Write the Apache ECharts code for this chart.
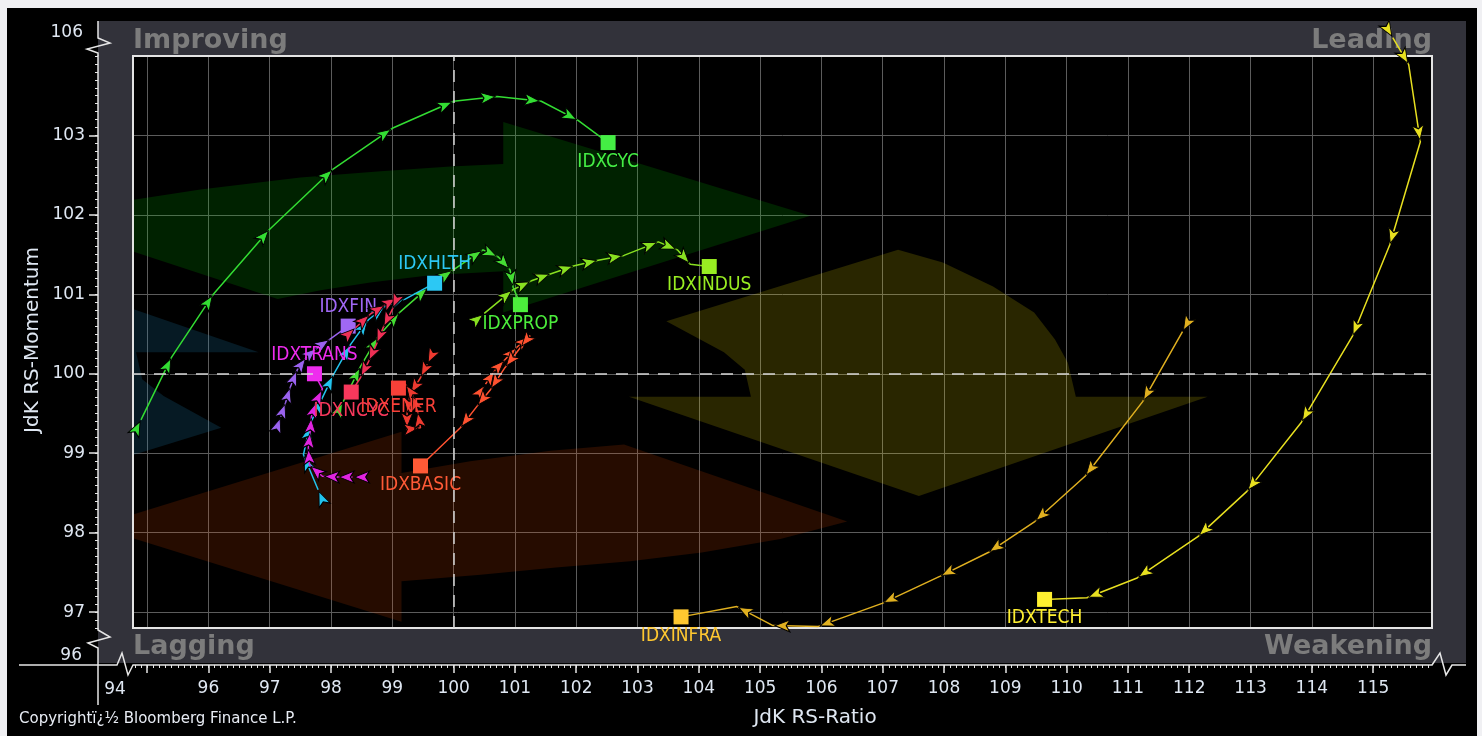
<!DOCTYPE html>
<html><head><meta charset="utf-8">
<script src="https://cdn.jsdelivr.net/npm/echarts@6/dist/echarts.min.js"></script>
<style>html,body{margin:0;padding:0;background:#f0f0f3;}#c{width:1482px;height:736px;}</style>
</head><body><div id="c"></div>
<script>
// ---------------- data ----------------
const X_LABELS = [96,97,98,99,100,101,102,103,104,105,106,107,108,109,110,111,112,113,114,115];
const X_GRID = [95,96,97,98,99,100,101,102,103,104,105,106,107,108,109,110,111,112,113,114,115];
const Y_LABELS = [97,98,99,100,101,102,103];
const Y_GRID = [97,98,99,100,101,102,103];
const SERIES_NAMES = ['IDXCYC','IDXINDUS','IDXPROP','IDXHLTH','IDXFIN','IDXTRANS','IDXNCYC','IDXENER','IDXBASIC','IDXINFRA','IDXTECH'];

const IDXCYC = [[94.90,99.42],[95.40,100.21],[96.08,101.00],[97.00,101.82],[98.04,102.58],[99.00,103.09],[100.00,103.43],[100.71,103.49],[101.43,103.43],[102.03,103.19],[102.52,102.91]];
const IDXINDUS = [[100.50,100.76],[100.97,101.06],[101.27,101.17],[101.59,101.26],[101.97,101.36],[102.36,101.43],[102.78,101.49],[103.34,101.66],[103.65,101.56],[103.86,101.38],[104.17,101.35]];
const IDXPROP = [[98.20,99.65],[98.48,100.09],[98.77,100.47],[99.13,100.78],[99.59,101.09],[100.00,101.31],[100.48,101.56],[100.73,101.47],[100.92,101.31],[100.97,101.09],[101.09,100.87]];
const IDXHLTH = [[97.79,98.54],[97.55,98.98],[97.66,99.37],[97.86,99.70],[98.04,99.99],[98.32,100.37],[98.61,100.68],[98.89,100.85],[99.21,100.94],[99.69,101.14]];
const IDXFIN = [[97.18,99.46],[97.26,99.64],[97.34,99.84],[97.45,100.05],[97.60,100.21],[97.78,100.33],[97.99,100.44],[98.28,100.60]];
const IDXTRANS = [[98.35,98.70],[98.10,98.70],[97.86,98.71],[97.65,98.85],[97.63,99.07],[97.66,99.27],[97.68,99.46],[97.76,99.65],[97.86,99.81],[97.73,100.00]];
const IDXNCYC = [[98.40,100.58],[98.64,100.75],[98.89,100.87],[99.08,100.96],[99.00,100.81],[98.85,100.58],[98.74,100.37],[98.61,100.15],[98.48,99.95],[98.33,99.77]];
const IDXENER = [[99.57,100.12],[99.46,99.95],[99.29,99.74],[99.24,99.49],[99.24,99.30],[99.46,99.32],[99.41,99.53],[99.33,99.74],[99.21,99.87],[99.10,99.82]];
const IDXBASIC = [[100.52,99.87],[100.68,100.05],[100.84,100.18],[101.04,100.34],[101.25,100.48],[101.09,100.33],[100.84,100.08],[100.60,99.80],[100.38,99.59],[100.11,99.32],[99.46,98.84]];
const IDXINFRA = [[111.89,100.53],[111.24,99.65],[110.30,98.71],[109.48,98.14],[108.72,97.75],[107.93,97.45],[106.99,97.11],[105.95,96.82],[105.21,96.83],[104.62,97.07],[103.71,96.94]];
const IDXTECH = [[115.32,104.23],[115.58,103.89],[115.77,102.92],[115.27,101.62],[114.66,100.47],[113.83,99.39],[112.94,98.52],[112.14,97.95],[111.15,97.43],[110.33,97.18],[109.64,97.16]];

// background rotation arrows (data units)
const ARROW_GREEN = [[105.82,101.99],[100.81,103.17],[100.81,102.64],[99.95,102.61],[98.81,102.55],[97.50,102.47],[95.87,102.32],[94.78,102.19],[93.59,101.84],[97.13,100.94],[97.83,101.05],[98.64,101.15],[99.62,101.24],[100.81,101.29],[100.81,100.77]];
const ARROW_YELLOW = [[107.59,98.46],[102.86,99.71],[104.85,99.71],[104.75,100.05],[104.41,100.27],[103.47,100.66],[107.25,101.56],[107.98,101.40],[108.80,101.10],[109.47,100.77],[109.81,100.43],[110.02,100.14],[110.15,99.71],[112.30,99.71]];
const ARROW_RED = [[94.14,98.08],[99.15,99.27],[99.15,98.75],[100.27,98.90],[101.58,99.03],[102.78,99.11],[106.42,98.14],[105.33,97.92],[104.05,97.75],[102.88,97.64],[101.67,97.56],[100.44,97.47],[99.15,97.39],[99.15,96.88]];
const ARROW_BLUE = [[92.09,101.53],[96.82,100.27],[94.82,100.27],[94.92,99.93],[95.27,99.72],[96.21,99.32],[92.43,98.42],[91.70,98.58],[90.89,98.89],[90.22,99.22],[89.88,99.55],[89.67,99.84],[89.53,100.27],[87.38,100.27]];

// ---------------- layout & style ----------------
const X_MIN = 94.77, X_MAX = 115.96, Y_MIN = 96.80, Y_MAX = 104.0;
const GL = 133, GT = 56, GW = 1299, GH = 572;
const AXC = '#e6e6e6', LBC = '#dfe7f2';
const NARROW = "'Liberation Sans Narrow','DejaVu Sans Condensed','Arial Narrow','Liberation Sans',sans-serif";
const TRAILS = [
  {data: IDXCYC,   line:'#33dd33', label:'#44ee44', pos:'bottom'},
  {data: IDXINDUS, line:'#88e020', label:'#99ee22', pos:'bottom'},
  {data: IDXPROP,  line:'#44dd33', label:'#4cee3c', pos:'bottom'},
  {data: IDXHLTH,  line:'#22c4ee', label:'#2cc8f4', pos:'top'},
  {data: IDXFIN,   line:'#9a62ee', label:'#a068f4', pos:'top'},
  {data: IDXTRANS, line:'#e024e0', label:'#ee2cee', pos:'top'},
  {data: IDXNCYC,  line:'#ee3055', label:'#f8385c', pos:'bottom'},
  {data: IDXENER,  line:'#ee3a30', label:'#f84038', pos:'bottom'},
  {data: IDXBASIC, line:'#ff5230', label:'#ff5a36', pos:'bottom'},
  {data: IDXINFRA, line:'#e0b020', label:'#ffc830', pos:'bottom'},
  {data: IDXTECH,  line:'#e8e020', label:'#fff030', pos:'bottom'}
];
const SHAPES = [
  {pts: ARROW_BLUE, fill:'rgba(30,140,190,0.19)'},
  {pts: ARROW_RED, fill:'rgba(255,80,0,0.15)'},
  {pts: ARROW_YELLOW, fill:'rgba(255,235,0,0.16)'},
  {pts: ARROW_GREEN, fill:'rgba(0,200,0,0.17)'}
];

const minorX = []; for (let v = 948; v <= 1159; v++) minorX.push(v / 10);
const minorY = []; for (let v = 968; v <= 1040; v++) minorY.push(v / 10);

const chart = echarts.init(document.getElementById('c'));

function txt(text, x, y, o) {
  return Object.assign({type:'text', x:x, y:y, silent:true, z: o.z || 5,
    style: Object.assign({text:text, fill:LBC, font:'17px "DejaVu Sans"', align:'left', verticalAlign:'middle'}, o.style || {})}, o.extra || {});
}
function pl(points, z) {
  return {type:'polyline', silent:true, z: z || 6, shape:{points:points}, style:{stroke:AXC, lineWidth:1.5, fill:null}};
}
const yAx = GL - 35, xAy = GT + GH + 37;

const graphics = [
  {type:'rect', z:-20, silent:true, shape:{x:7, y:8, width:1470, height:728}, style:{fill:'#000'}},
  {type:'rect', z:-19, silent:true, shape:{x:yAx, y:21, width:1368, height:642}, style:{fill:'#32323a'}},
  {type:'rect', z:-18, silent:true, shape:{x:GL, y:GT, width:GW, height:GH}, style:{fill:'#000'}},
  {type:'rect', z:2, silent:true, shape:{x:GL, y:GT, width:GW, height:GH}, style:{fill:null, stroke:'#e4e4e4', lineWidth:2}},
  txt('Improving', GL, 41, {z:-5, style:{font:'bold 27px "DejaVu Sans"', fill:'#7c7c7c'}}),
  txt('Leading', GL+GW, 41, {z:-5, style:{font:'bold 27px "DejaVu Sans"', fill:'#7c7c7c', align:'right'}}),
  txt('Lagging', GL, 647, {z:-5, style:{font:'bold 27px "DejaVu Sans"', fill:'#7c7c7c'}}),
  txt('Weakening', GL+GW, 647, {z:-5, style:{font:'bold 27px "DejaVu Sans"', fill:'#7c7c7c', align:'right'}}),
  // axis breaks and extensions
  pl([[yAx,21],[yAx,38],[yAx+12,43],[yAx-11,49],[yAx,53],[yAx,GT]]),
  pl([[yAx,GT+GH],[yAx,630],[yAx+12,637],[yAx-10,643],[yAx,648],[yAx,705]]),
  pl([[19,xAy],[117,xAy],[122,xAy-12],[128,xAy+10],[GL,xAy]]),
  pl([[GL+GW,xAy],[1440,xAy-12],[1446,xAy+10],[1452,xAy],[1466,xAy]]),
  txt('106', 83, 33, {style:{align:'right'}}),
  txt('96', 82, 656, {style:{align:'right'}}),
  txt('94', 115, 690, {style:{align:'center'}}),
  txt('JdK RS-Ratio', 815, 718, {style:{align:'center', font:'20px "DejaVu Sans"'}}),
  txt('JdK RS-Momentum', 33, 340, {style:{align:'center', font:'20px "DejaVu Sans"'}, extra:{rotation: Math.PI/2}}),
  txt('Copyright\u00ef\u00bf\u00bd Bloomberg Finance L.P.', 19, 719, {style:{font:'15px "DejaVu Sans"', fill:'#e8ecf4'}})
];

const baseAxis = {type:'value', gridIndex:0, axisLine:{show:false, onZero:false}, axisLabel:{show:false}, splitLine:{show:false}, axisTick:{show:false}};
const option = {
  animation:false,
  backgroundColor:'transparent',
  grid:[{left:GL, top:GT, width:GW, height:GH, containLabel:false}],
  xAxis:[
    Object.assign({}, baseAxis, {min:X_MIN, max:X_MAX, position:'bottom', offset:37,
      axisLine:{show:true, onZero:false, lineStyle:{color:AXC, width:1.5}},
      axisTick:{show:true, customValues:minorX, length:3, lineStyle:{color:AXC, width:1}},
      axisLabel:{show:true, customValues:X_LABELS, color:LBC, fontSize:17, fontFamily:'DejaVu Sans', margin:15}}),
    Object.assign({}, baseAxis, {min:X_MIN, max:X_MAX, position:'bottom', offset:37,
      axisTick:{show:true, customValues:X_GRID, length:8, lineStyle:{color:AXC, width:1.5}},
      splitLine:{show:true, lineStyle:{color:'#5c5c5c', width:1}}})
  ],
  yAxis:[
    Object.assign({}, baseAxis, {min:Y_MIN, max:Y_MAX, position:'left', offset:35,
      axisLine:{show:true, onZero:false, lineStyle:{color:AXC, width:1.5}},
      axisTick:{show:true, customValues:minorY, length:3, lineStyle:{color:AXC, width:1}},
      axisLabel:{show:true, customValues:Y_LABELS, color:LBC, fontSize:17, fontFamily:'DejaVu Sans', margin:13}}),
    Object.assign({}, baseAxis, {min:Y_MIN, max:Y_MAX, position:'left', offset:35,
      axisTick:{show:true, customValues:Y_GRID, length:9, lineStyle:{color:AXC, width:1.5}},
      splitLine:{show:true, lineStyle:{color:'#5c5c5c', width:1}}})
  ],
  graphic:{elements:graphics},
  series:[]
};
chart.setOption(option);

function toPx(p) {
  let r = null;
  try { r = chart.convertToPixel({xAxisIndex:0, yAxisIndex:0}, p); } catch (e) { r = null; }
  if (!r || isNaN(r[0])) r = [GL + (p[0]-X_MIN)/(X_MAX-X_MIN)*GW, GT + (Y_MAX-p[1])/(Y_MAX-Y_MIN)*GH];
  return r;
}

const series = [];
series.push({
  type:'custom', xAxisIndex:0, yAxisIndex:0, z:1, silent:true, clip:true,
  data: SHAPES.map(() => [100, 100]),
  renderItem: function (params, api) {
    const s = SHAPES[params.dataIndex];
    return {type:'polygon', shape:{points: s.pts.map(p => api.coord(p))}, style:{fill:s.fill}};
  }
});
series.push({
  type:'line', xAxisIndex:0, yAxisIndex:0, z:2, data:[], silent:true,
  markLine:{silent:true, symbol:['none','none'], label:{show:false}, animation:false,
    lineStyle:{color:'#d6d6d6', type:[12,9], width:1.5},
    data:[{xAxis:100},{yAxis:100}]}
});

const SHIFT = 2;
TRAILS.forEach((t, si) => {
  const px = t.data.map(toPx);
  const n = t.data.length;
  const items = t.data.map((p, i) => {
    if (i === n - 1) {
      return {value:p, symbol:'rect', symbolSize:15, symbolRotate:0, symbolOffset:[0,0],
        itemStyle:{color:t.label, borderWidth:0},
        label:{show:true, position:t.pos, distance:2, formatter:SERIES_NAMES[si], color:t.label,
          fontSize:19, fontFamily:NARROW}};
    }
    const a = i === 0 ? px[0] : px[i-1];
    const b = i === 0 ? px[1] : px[i];
    const dx = b[0]-a[0], dy = b[1]-a[1];
    const len = Math.hypot(dx, dy) || 1;
    const rot = Math.atan2(-dy, dx) * 180 / Math.PI - 90;
    return {value:p, symbolRotate:rot, symbolOffset:[-dx/len*SHIFT, -dy/len*SHIFT]};
  });
  series.push({
    type:'line', name:SERIES_NAMES[si], xAxisIndex:0, yAxisIndex:0, z:3 + si*0.01, clip:false,
    data:items, symbol:'arrow', symbolSize:[9,15], showSymbol:true, showAllSymbol:true,
    lineStyle:{color:t.line, width:1.5},
    itemStyle:{color:t.line, borderColor:'#000', borderWidth:1},
    label:{show:false}, emphasis:{disabled:true}, animation:false
  });
});
chart.setOption({series:series});
</script>
</body></html>
